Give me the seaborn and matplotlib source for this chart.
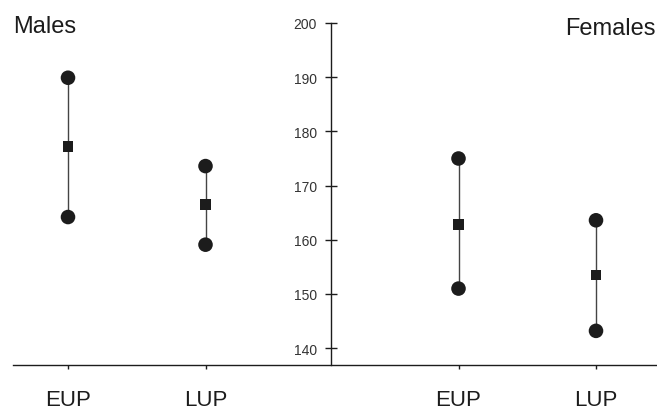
import matplotlib
matplotlib.use("Agg")
import matplotlib.pyplot as plt
import seaborn as sns
import pandas as pd

# ---- data ----
sexes = ["Males", "Males", "Females", "Females"]
periods = ["EUP", "LUP", "EUP", "LUP"]
upper = [189.9, 173.6, 175.0, 163.6]
mean = [177.2, 166.5, 162.8, 153.5]
lower = [164.2, 159.1, 151.0, 143.2]
y_ticks = [140, 150, 160, 170, 180, 190, 200]

sns.set_theme(style="white")
plt.rcParams["font.family"] = ["Liberation Sans", "DejaVu Sans"]

# layout: categories placed with a gap between the two sexes
gap = 0.84
xpos = [i + (gap if i >= 2 else 0) for i in range(len(periods))]

rows = []
for i, (s, p) in enumerate(zip(sexes, periods)):
    rows.append(dict(group=i, x=xpos[i], value=upper[i], kind="range"))
    rows.append(dict(group=i, x=xpos[i], value=mean[i], kind="mean"))
    rows.append(dict(group=i, x=xpos[i], value=lower[i], kind="range"))
df = pd.DataFrame(rows)

fig = plt.figure(figsize=(6.57, 4.14), dpi=100)
ax = fig.add_axes([13 / 657, 1 - 366 / 414, 1 - 13 / 657, (366 - 24) / 414])

ink = "#1c1c1c"
sns.lineplot(data=df, x="x", y="value", units="group", estimator=None,
             color="#444444", linewidth=1.0, ax=ax, legend=False, sort=False)
sns.scatterplot(data=df, x="x", y="value", style="kind",
                markers={"range": "o", "mean": "s"},
                size="kind", sizes={"range": 110, "mean": 60},
                color=ink, edgecolor=ink, linewidth=0, ax=ax, legend=False,
                zorder=3)

x0 = xpos[0] - (68 - 13) / 137.5
x1 = xpos[0] + (657 - 68) / 137.5
yaxis_x = xpos[0] + (331 - 68) / 137.5
ax.set_xlim(x0, x1)
ax.set_ylim(136.9, 200)

for side in ["top", "right"]:
    ax.spines[side].set_visible(False)
ax.spines["left"].set_position(("data", yaxis_x))
ax.spines["left"].set_color(ink)
ax.spines["left"].set_linewidth(1.0)
ax.spines["bottom"].set_color(ink)
ax.spines["bottom"].set_linewidth(1.0)

ax.set_yticks(y_ticks)
ax.set_yticklabels([str(t) for t in y_ticks], fontsize=10, color="#333333")
ax.tick_params(axis="y", direction="inout", length=8, width=1, color=ink,
               left=True, pad=6)
ax.set_xticks(xpos)
ax.set_xticklabels(periods, fontsize=16, color=ink)
ax.tick_params(axis="x", direction="out", length=3, width=1, color=ink,
               bottom=True, pad=14)
ax.set_xlabel("")
ax.set_ylabel("")

fig.text(13 / 657, 1 - 27 / 414, "Males", fontsize=17, color=ink,
         ha="left", va="center")
fig.text(656 / 657, 1 - 29 / 414, "Females", fontsize=17, color=ink,
         ha="right", va="center")

fig.savefig("out.png", dpi=100, facecolor="white")
